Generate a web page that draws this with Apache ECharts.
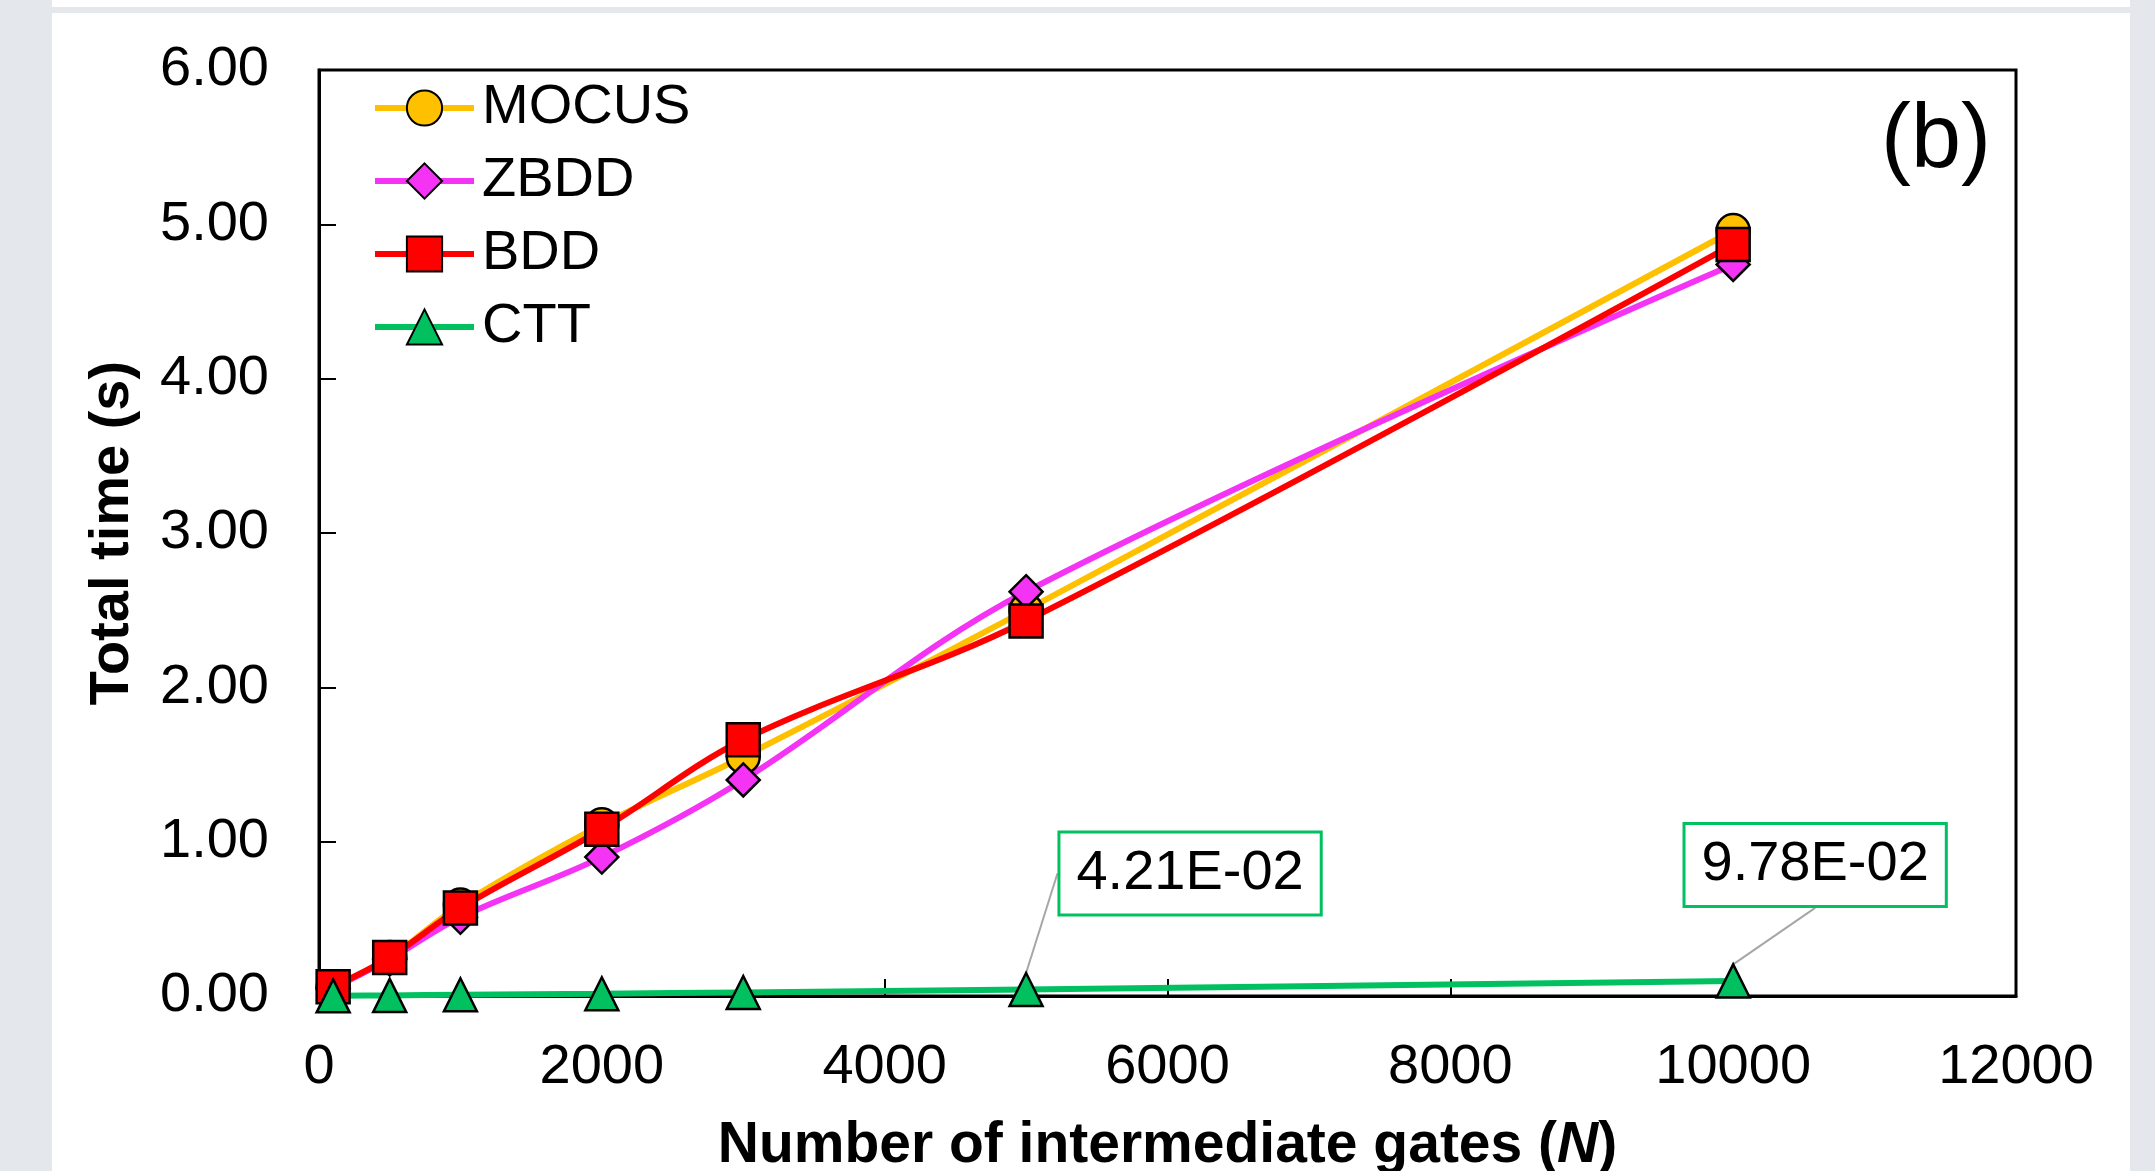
<!DOCTYPE html>
<html>
<head>
<meta charset="utf-8">
<title>Total time vs intermediate gates</title>
<script src="https://cdn.jsdelivr.net/npm/echarts@6/dist/echarts.min.js"></script>
<style>
  html, body { margin: 0; padding: 0; overflow: hidden; background: #e4e7eb; }
  .strip { position: absolute; left: 52px; top: 0; width: 2078px; height: 7px; background: #fff; }
  .card { position: absolute; left: 52px; top: 13px; width: 2078px; height: 1158px; background: #fff; }
  #main { position: absolute; left: 0; top: 0; width: 2155px; height: 1171px; }
</style>
</head>
<body>
<div class="strip"></div>
<div class="card"></div>
<div id="main"></div>
<script>
// data
const gates = [100, 500, 1000, 2000, 3000, 5000, 10000]
const mocus = [0.06, 0.25, 0.59, 1.11, 1.55, 2.50, 4.96]
const zbdd = [0.05, 0.24, 0.51, 0.90, 1.40, 2.62, 4.74]
const bdd = [0.06, 0.25, 0.57, 1.08, 1.66, 2.43, 4.87]
const ctt = [0.001, 0.004, 0.008, 0.015, 0.023, 0.0421, 0.0978]
const seriesNames = ['MOCUS', 'ZBDD', 'BDD', 'CTT']
const calloutIdx = [5, 6] // CTT points with a value box

const FONT = '"Liberation Sans", Arial, sans-serif'

// Excel style 4.21E-02
function sci(v) {
  const parts = v.toExponential(2).split('e')
  const n = Number(parts[1])
  return parts[0] + 'E' + (n < 0 ? '-' : '+') + String(Math.abs(n)).padStart(2, '0')
}

function makeSeries(name, values, color, symbol) {
  return {
    name: name,
    type: 'line',
    data: gates.map((g, i) => [g, values[i]]),
    smooth: 0.35,
    symbol: symbol,
    symbolSize: 33,
    lineStyle: { color: color, width: 6 },
    itemStyle: { color: color, borderColor: '#000', borderWidth: 2.5 },
    emphasis: { disabled: true },
    animation: false
  }
}

const cttSeries = makeSeries('CTT', ctt, '#00c060', 'triangle')
cttSeries.data = gates.map((g, i) => {
  if (calloutIdx.indexOf(i) < 0) return [g, ctt[i]]
  return {
    value: [g, ctt[i]],
    label: {
      show: true,
      formatter: p => sci(p.value[1]),
      fontSize: 56,
      lineHeight: 56,
      fontFamily: FONT,
      color: '#000',
      backgroundColor: '#fff',
      borderColor: '#00c060',
      borderWidth: 3,
      padding: [12, 16]
    },
    labelLine: { show: true, smooth: false, lineStyle: { color: '#a6a6a6', width: 2 } }
  }
})
// where the boxes sit relative to their point
const calloutShift = { 5: [164, -116], 6: [82, -116] }
cttSeries.labelLayout = function (params) {
  const s = calloutShift[params.dataIndex]
  if (!s) return {}
  return {
    x: params.rect.x + params.rect.width / 2 + s[0],
    y: params.rect.y + params.rect.height / 2 + s[1],
    align: 'center',
    verticalAlign: 'middle'
  }
}

const chart = echarts.init(document.getElementById('main'))
const option = {
  backgroundColor: 'transparent',
  textStyle: { fontFamily: FONT },
  grid: {
    left: 319, right: 139, top: 70, bottom: 175,
    show: true, borderColor: '#000', borderWidth: 3,
    outerBoundsMode: 'none'
  },
  legend: {
    orient: 'vertical',
    left: 367,
    top: 75,
    itemWidth: 99,
    itemHeight: 44,
    itemGap: 17,
    selectedMode: false,
    data: seriesNames,
    lineStyle: { width: 6 },
    textStyle: { fontSize: 56, lineHeight: 56, color: '#000', fontFamily: FONT, padding: [0, 0, 0, 3] }
  },
  xAxis: {
    type: 'value',
    min: 0,
    max: 12000,
    interval: 2000,
    axisLine: { show: true, lineStyle: { color: '#000', width: 3 } },
    axisTick: { show: true, inside: true, length: 17, lineStyle: { color: '#000', width: 2 } },
    axisLabel: { margin: 44, fontSize: 56, color: '#000', fontFamily: FONT, formatter: v => String(v) },
    splitLine: { show: false },
    name: '{b|Number of intermediate gates (}{i|N}{b|)}',
    nameLocation: 'middle',
    nameGap: 122,
    nameTextStyle: {
      rich: {
        b: { fontSize: 57, fontWeight: 'bold', color: '#000', fontFamily: FONT },
        i: { fontSize: 57, fontWeight: 'bold', fontStyle: 'italic', color: '#000', fontFamily: FONT }
      }
    }
  },
  yAxis: {
    type: 'value',
    min: 0,
    max: 6,
    interval: 1,
    axisLine: { show: true, lineStyle: { color: '#000', width: 3 } },
    axisTick: { show: true, inside: true, length: 17, lineStyle: { color: '#000', width: 2 } },
    axisLabel: { margin: 50, fontSize: 56, color: '#000', fontFamily: FONT, formatter: v => v.toFixed(2) },
    splitLine: { show: false },
    name: 'Total time (s)',
    nameLocation: 'middle',
    nameGap: 178,
    nameTextStyle: { fontSize: 56, fontWeight: 'bold', color: '#000', fontFamily: FONT }
  },
  graphic: [{
    type: 'text',
    x: 1936,
    y: 142,
    style: { text: '(b)', fill: '#000', font: '90px ' + FONT, textAlign: 'center', textVerticalAlign: 'middle' }
  }],
  series: [
    makeSeries('MOCUS', mocus, '#ffc000', 'circle'),
    makeSeries('ZBDD', zbdd, '#f533f5', 'diamond'),
    makeSeries('BDD', bdd, '#ff0000', 'rect'),
    cttSeries
  ]
}
chart.setOption(option)
</script>
</body>
</html>
